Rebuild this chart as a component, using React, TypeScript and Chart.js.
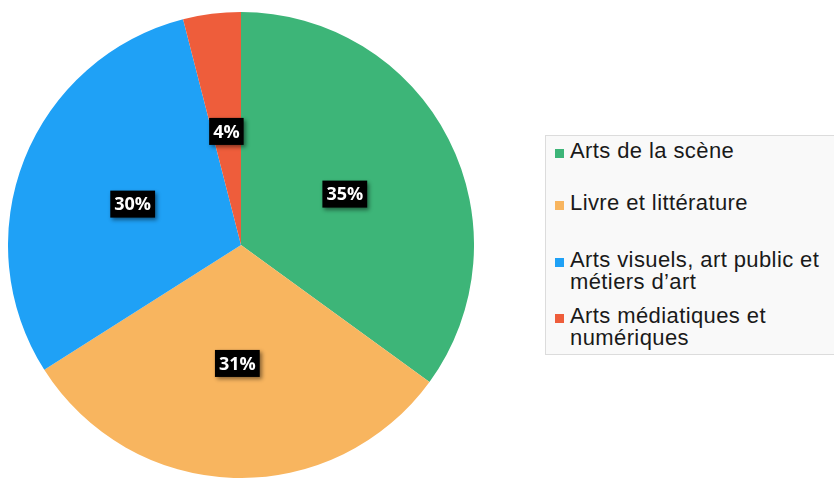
import React, { useEffect, useRef } from "react";
import { Chart, registerables } from "chart.js";

Chart.register(...registerables);

const categories: string[][] = [
  ["Arts de la scène"],
  ["Livre et littérature"],
  ["Arts visuels, art public et", "métiers d’art"],
  ["Arts médiatiques et", "numériques"],
];
const values: number[] = [35, 31, 30, 4];
const colors: string[] = ["#3db578", "#f8b55f", "#1fa1f6", "#ee5d3b"];

const labelPlugin = {
  id: "boxLabels",
  afterDatasetsDraw(chart: any) {
    const ctx = chart.ctx;
    const meta = chart.getDatasetMeta(0);
    const data = chart.data.datasets[0].data as number[];
    const total = data.reduce((a, b) => a + b, 0);
    ctx.save();
    ctx.font = "bold 18px 'Open Sans'";
    ctx.textAlign = "center";
    ctx.textBaseline = "middle";
    meta.data.forEach((arc: any, i: number) => {
      const p = arc.tooltipPosition();
      const y = p.y + 2;
      const txt = Math.round((data[i] / total) * 100) + "%";
      const w = ctx.measureText(txt).width + 8;
      const h = 27;
      ctx.shadowColor = "rgba(0,0,0,0.45)";
      ctx.shadowBlur = 4;
      ctx.shadowOffsetX = 2;
      ctx.shadowOffsetY = 2;
      ctx.fillStyle = "#000";
      ctx.fillRect(p.x - w / 2, y - h / 2, w, h);
      ctx.shadowColor = "transparent";
      ctx.fillStyle = "#fff";
      ctx.fillText(txt, p.x, y + 1);
    });
    ctx.restore();
  },
};

const slotHeights = [52, 57, 56, 48];

export default function App() {
  const ref = useRef<HTMLCanvasElement>(null);
  useEffect(() => {
    if (!ref.current) return;
    const chart = new Chart(ref.current, {
      type: "pie",
      data: {
        labels: categories.map((c) => c.join(" ")),
        datasets: [
          {
            data: values,
            backgroundColor: colors,
            borderWidth: 0,
          },
        ],
      },
      options: {
        animation: false,
        responsive: false,
        layout: { padding: 0 },
        plugins: {
          legend: { display: false },
          tooltip: { enabled: false },
        },
      },
      plugins: [labelPlugin],
    });
    return () => chart.destroy();
  }, []);

  return (
    <div
      style={{
        position: "fixed",
        left: 0,
        top: 0,
        width: 834,
        height: 478,
        background: "#fff",
        overflow: "hidden",
        fontFamily: "'Liberation Sans', Arial, sans-serif",
      }}
    >
      <canvas
        ref={ref}
        width={466}
        height={466}
        style={{ position: "absolute", left: 8, top: 12, width: 466, height: 466 }}
      />
      <div
        style={{
          position: "absolute",
          left: 545,
          top: 135,
          width: 300,
          height: 220,
          boxSizing: "border-box",
          background: "#f9f9f9",
          border: "1px solid #dcdcdc",
          paddingTop: 4,
        }}
      >
        {categories.map((lines, i) => (
          <div
            key={i}
            style={{
              position: "relative",
              height: slotHeights[i],
              paddingLeft: 24,
              fontSize: 22,
              letterSpacing: "0.4px",
              lineHeight: "22px",
              color: "#1a1a1a",
            }}
          >
            <span
              style={{
                position: "absolute",
                left: 9,
                top: 9,
                width: 9,
                height: 9,
                background: colors[i],
              }}
            />
            {lines.map((l, j) => (
              <div key={j} style={{ whiteSpace: "nowrap" }}>
                {l}
              </div>
            ))}
          </div>
        ))}
      </div>
    </div>
  );
}
